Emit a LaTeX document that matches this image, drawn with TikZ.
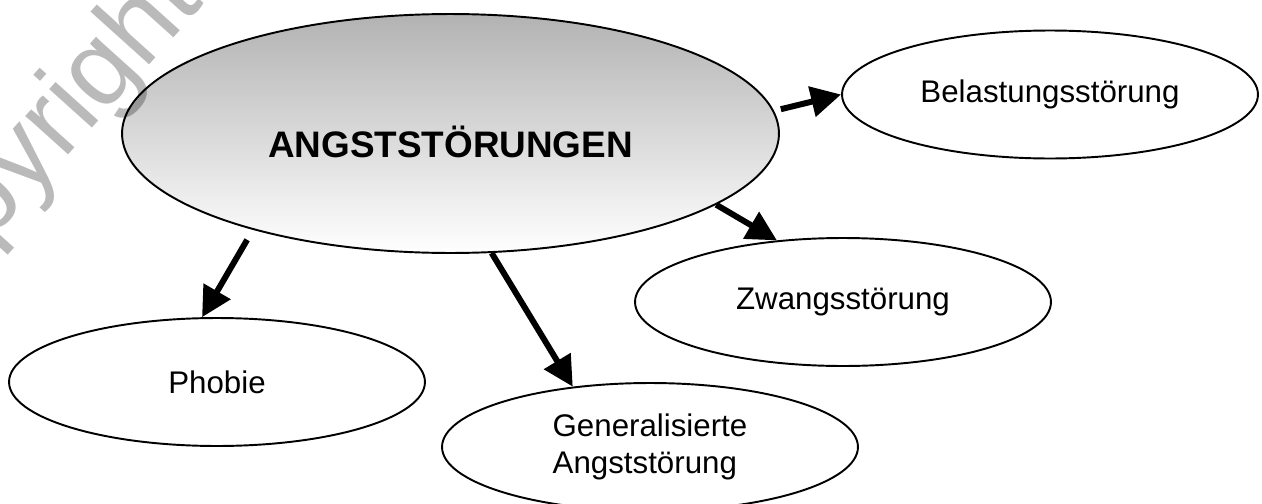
\documentclass[tikz,border=0pt]{standalone}
\usepackage{fontspec}
\setmainfont{Liberation Sans}
\usetikzlibrary{shapes.geometric,arrows.meta}

\tikzset{
	stoerung/.style = { draw, ellipse, line width = 1.1pt, minimum width = 8.32cm, minimum height = 2.56cm, inner sep = 0pt, font = \fontsize{17.8}{21}\selectfont },
	pfeil/.style = { -{Triangle[ length = 0.6cm, width = 0.6cm ]}, line width = 3.4pt }
}

\begin{document}
	\begin{tikzpicture}[ x = 0.02cm, y = -0.02cm ]
		\useasboundingbox ( 0, 0 ) rectangle ( 1262, 504 );

		% Hauptknoten
		\node [ stoerung, top color = black!30, bottom color = white, minimum width = 13.14cm, minimum height = 4.78cm, text height = 1.0cm, text depth = 0.04cm, font = \fontsize{21}{24}\selectfont\bfseries ] (angst) at ( 450.5, 133.5 ) { ANGSTSTÖRUNGEN };

		% Wasserzeichen
		\node [ rotate = 48, text = black, text opacity = 0.27, font = \fontsize{62}{70}\selectfont ] (wasserzeichen) at ( 28, 157 ) { Copyright };

		% Unterknoten
		\node [ stoerung ] (belastung) at ( 1050, 94.5 ) { Belastungsstörung };
		\node [ stoerung ] (zwang) at ( 843, 302 ) { Zwangsstörung };
		\node [ stoerung ] (phobie) at ( 217, 382 ) { Phobie };
		\node [ stoerung, align = left, text depth = 0.12cm ] (generalisiert) at ( 650, 447 ) { Generalisierte \\ Angststörung };

		% Pfeile
		\draw [ pfeil, shorten <= 0.14cm ] (angst.4) -- (belastung.west);
		\draw [ pfeil ] (angst.-15.5) -- (zwang.137);
		\draw [ pfeil, shorten <= 0.23cm ] (angst.206) -- (phobie.103);
		\draw [ pfeil ] (angst.-71) -- (generalisiert.142);
	\end{tikzpicture}
\end{document}
